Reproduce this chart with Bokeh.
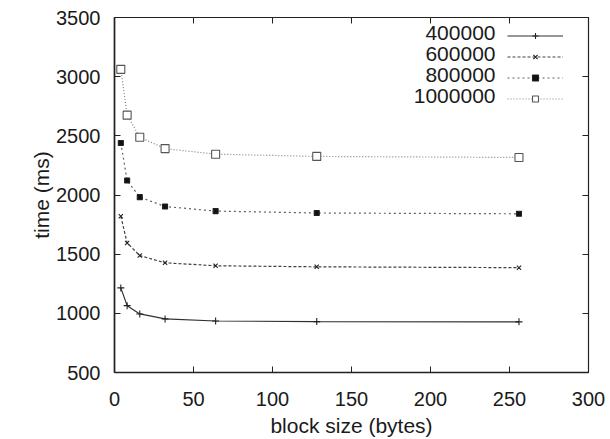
from bokeh.plotting import figure
from bokeh.models import LinearAxis, Range1d, Legend, LegendItem, FixedTicker, Label
from bokeh.embed import file_html
from bokeh.resources import INLINE

block_size = [4, 8, 16, 32, 64, 128, 256]
t_400000 = [1215, 1065, 995, 953, 935, 930, 928]
t_600000 = [1820, 1595, 1488, 1427, 1402, 1393, 1386]
t_800000 = [2440, 2122, 1982, 1903, 1864, 1848, 1841]
t_1000000 = [3062, 2675, 2488, 2392, 2345, 2326, 2317]
series_names = ["400000", "600000", "800000", "1000000"]
x_ticks = [0, 50, 100, 150, 200, 250, 300]
y_ticks = [500, 1000, 1500, 2000, 2500, 3000, 3500]

FONT = "Liberation Sans"
TXT = "#1a1a1a"
AX = "#222222"

p = figure(width=610, height=439, output_backend="svg", toolbar_location=None,
           x_range=Range1d(0, 300), y_range=Range1d(500, 3500),
           min_border_left=114, min_border_right=22, min_border_top=17,
           min_border_bottom=66)
p.xgrid.visible = False
p.ygrid.visible = False
p.outline_line_color = AX
p.outline_line_width = 1.2

for ax, ticks in ((p.xaxis[0], x_ticks), (p.yaxis[0], y_ticks)):
    ax.ticker = FixedTicker(ticks=ticks)
    ax.major_tick_in = 6
    ax.major_tick_out = 0
    ax.minor_tick_line_color = None
    ax.axis_line_color = AX
    ax.axis_line_width = 1.6
    ax.major_tick_line_color = AX
    ax.major_label_text_font = FONT
    ax.major_label_text_font_size = "20px"
    ax.major_label_text_color = TXT
    ax.axis_label_text_font = FONT
    ax.axis_label_text_font_size = "21px"
    ax.axis_label_text_font_style = "normal"
    ax.axis_label_text_color = TXT
p.xaxis.axis_label = "block size (bytes)"
p.yaxis.axis_label = "time (ms)"
p.xaxis.major_label_standoff = 19
p.xaxis.axis_label_standoff = 5
p.yaxis.major_label_standoff = 14
p.yaxis.axis_label_standoff = 0

for loc, ticks in (("right", y_ticks), ("above", x_ticks)):
    ax = LinearAxis(ticker=FixedTicker(ticks=ticks), major_tick_in=6, major_tick_out=0,
                    minor_tick_line_color=None,
                    major_label_overrides={t: "" for t in ticks},
                    major_label_standoff=0, axis_line_color=AX,
                    major_tick_line_color=AX)
    p.add_layout(ax, loc)

styles = [
    dict(data=t_400000, color="#303030", dash="solid", marker="cross", size=7, fill="#303030", mline="#222222"),
    dict(data=t_600000, color="#404040", dash="3 2", marker="x", size=6, fill="#404040", mline="#222222"),
    dict(data=t_800000, color="#606060", dash="2 3", marker="square", size=5, fill="#111111", mline="#222222"),
    dict(data=t_1000000, color="#808080", dash="1 2", marker="square", size=8, fill="white", mline="#555555"),
]

items = []
for name, st in zip(series_names, styles):
    r1 = p.line(block_size, st["data"], line_color=st["color"], line_width=1.2,
                line_dash=st["dash"])
    r2 = p.scatter(block_size, st["data"], marker=st["marker"], size=st["size"],
                   line_color=st["mline"], fill_color=st["fill"], line_width=1.1)
    items.append(LegendItem(label="", renderers=[r1, r2]))

legend = Legend(items=items, location=(393, 263), orientation="vertical",
                background_fill_alpha=0, border_line_color=None,
                label_text_font_size="1px", label_standoff=0, label_width=0,
                glyph_width=56, glyph_height=15, label_height=21,
                spacing=0, padding=0, margin=0)
p.add_layout(legend)

row_y = [340, 319, 298, 277]
for name, yy in zip(series_names, row_y):
    p.add_layout(Label(x=381, y=yy, x_units="screen", y_units="screen", text=name,
                       text_align="right", text_baseline="middle",
                       text_font=FONT, text_font_size="21px", text_color=TXT))

open("out.html", "w").write(file_html(p, INLINE))
